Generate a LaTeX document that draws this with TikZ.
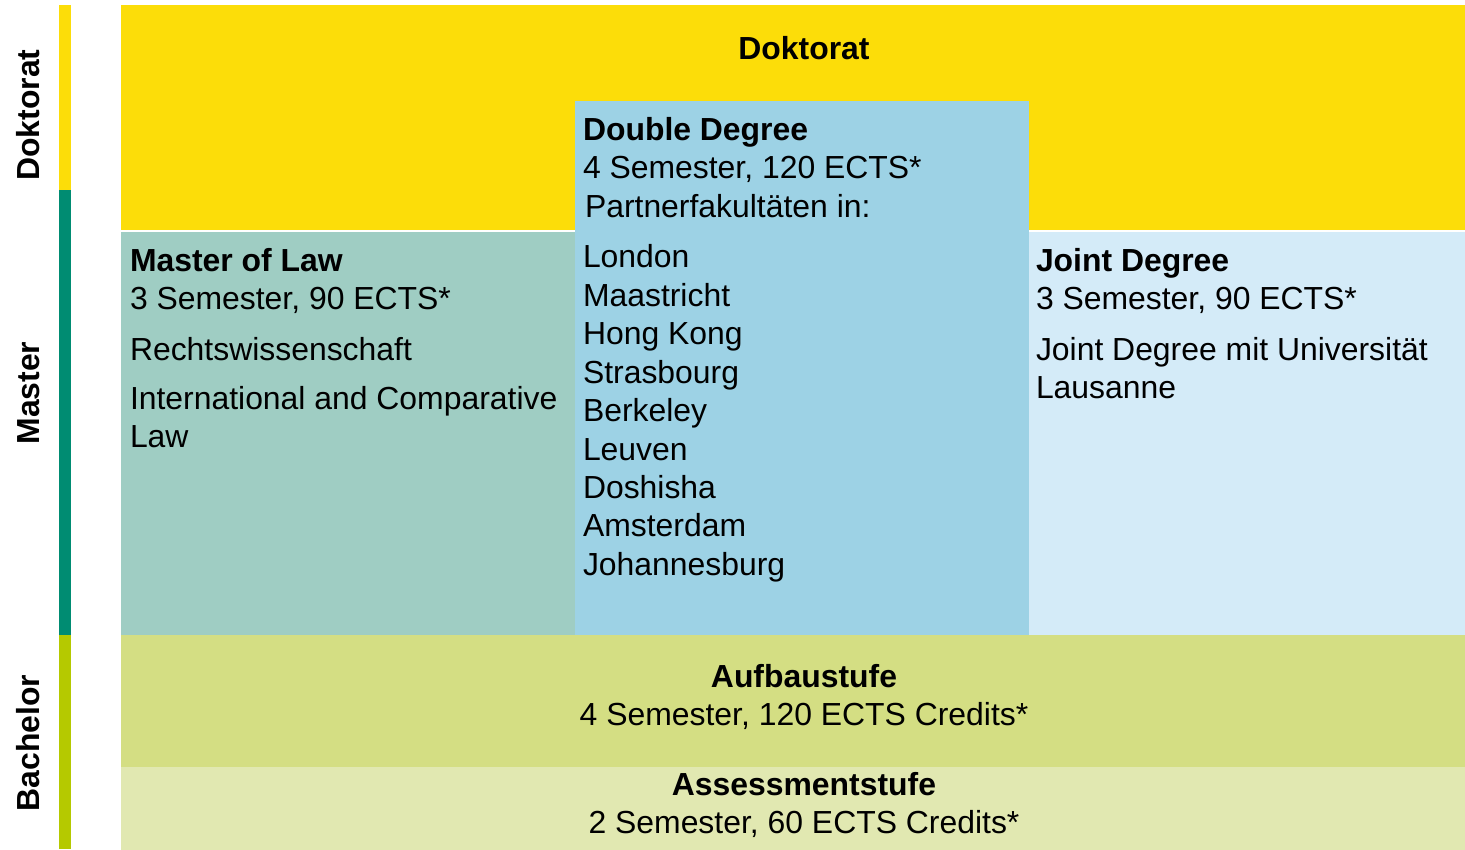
\documentclass[tikz,border=0pt]{standalone}
\usepackage{fontspec}
\setmainfont{Liberation Sans}
\definecolor{cyellow}{HTML}{FCDD09}
\definecolor{cteal}{HTML}{008C72}
\definecolor{clime}{HTML}{B5C900}
\definecolor{cmaster}{HTML}{9FCDC3}
\definecolor{cdouble}{HTML}{9DD2E5}
\definecolor{cjoint}{HTML}{D4EBF8}
\definecolor{caufbau}{HTML}{D4DE83}
\definecolor{cassess}{HTML}{E1E8B1}
\tikzset{
  txt/.style={anchor=base west, inner sep=0pt, outer sep=0pt, font=\fontsize{31.9}{38}\selectfont},
  btxt/.style={txt, font=\fontsize{31.9}{38}\selectfont\bfseries},
  ctxt/.style={txt, anchor=base},
  cbtxt/.style={btxt, anchor=base},
  side/.style={anchor=base, inner sep=0pt, rotate=90, font=\fontsize{31.9}{38}\selectfont\bfseries},
}
\begin{document}
\begin{tikzpicture}[x=1pt,y=-1pt]
\useasboundingbox (0,0) rectangle (1465,850);
% side bars
\fill[cyellow] (59,5) rectangle (71,190);
\fill[cteal] (59,190) rectangle (71,635);
\fill[clime] (59,635) rectangle (71,849);
% main blocks
\fill[cyellow] (121,5) rectangle (1465,230);
\fill[cmaster] (121,232) rectangle (575,635);
\fill[cjoint] (1029,232) rectangle (1465,635);
\fill[cdouble] (575,101) rectangle (1029,635);
\fill[caufbau] (121,635) rectangle (1465,767);
\fill[cassess] (121,767) rectangle (1465,850);
% side labels
\node[side] (sDok) at (39,115) {Doktorat};
\node[side] (sMas) at (39,393) {Master};
\node[side] (sBac) at (39,743) {Bachelor};
% Doktorat
\node[cbtxt] (dok) at (804,60) {Doktorat};
% Double Degree
\node[btxt] (dd1) at (583,141) {Double Degree};
\node[txt] (dd2) at (583,179) {4 Semester, 120 ECTS*};
\node[txt] (dd3) at (585,218) {Partnerfakultäten in:};
\foreach \c [count=\i] in {London,Maastricht,Hong Kong,Strasbourg,Berkeley,Leuven,Doshisha,Amsterdam,Johannesburg}
  \node[txt] (city\i) at (583,{268+38.4*(\i-1)}) {\c};
% Master of Law
\node[btxt] (ml1) at (130,272) {Master of Law};
\node[txt] (ml2) at (130,310) {3 Semester, 90 ECTS*};
\node[txt] (ml3) at (130,360) {Rechtswissenschaft};
\node[txt] (ml4) at (130,409) {International and Comparative};
\node[txt] (ml5) at (130,447) {Law};
% Joint Degree
\node[btxt] (jd1) at (1036,272) {Joint Degree};
\node[txt] (jd2) at (1036,310) {3 Semester, 90 ECTS*};
\node[txt] (jd3) at (1036,360) {Joint Degree mit Universität};
\node[txt] (jd4) at (1036,398) {Lausanne};
% Bachelor
\node[cbtxt] (au1) at (804,687) {Aufbaustufe};
\node[ctxt] (au2) at (804,725) {4 Semester, 120 ECTS Credits*};
\node[cbtxt] (as1) at (804,795) {Assessmentstufe};
\node[ctxt] (as2) at (804,833) {2 Semester, 60 ECTS Credits*};
\end{tikzpicture}
\end{document}
